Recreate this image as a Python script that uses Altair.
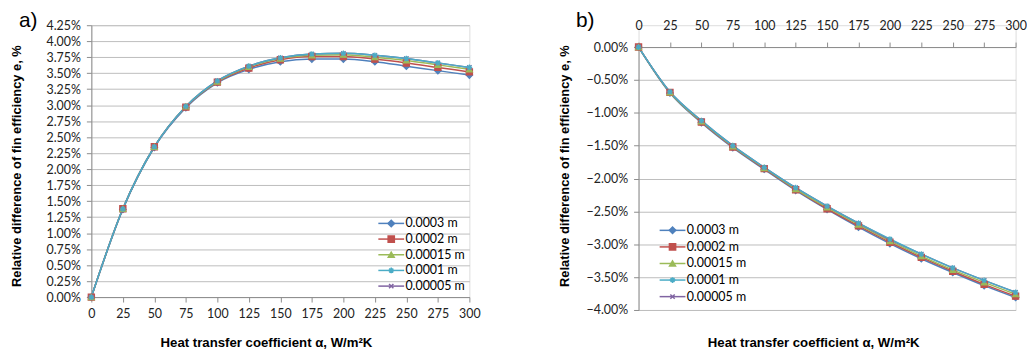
import altair as alt
import pandas as pd

alpha = [0, 25, 50, 75, 100, 125, 150, 175, 200, 225, 250, 275, 300]
series_names = ["0.0003 m", "0.0002 m", "0.00015 m", "0.0001 m", "0.00005 m"]

# panel a) relative difference, %
a_0003 = [0.0, 1.37, 2.34, 2.96, 3.35, 3.56, 3.68, 3.72, 3.72, 3.68, 3.61, 3.54, 3.47]
a_0002 = [0.0, 1.38, 2.35, 2.97, 3.36, 3.58, 3.71, 3.76, 3.76, 3.72, 3.66, 3.59, 3.52]
a_00015 = [0.0, 1.38, 2.35, 2.98, 3.37, 3.60, 3.73, 3.78, 3.79, 3.75, 3.70, 3.63, 3.56]
a_0001 = [0.0, 1.38, 2.35, 2.98, 3.38, 3.61, 3.74, 3.80, 3.81, 3.78, 3.73, 3.66, 3.59]
a_00005 = [0.0, 1.38, 2.35, 2.98, 3.38, 3.61, 3.74, 3.80, 3.81, 3.78, 3.73, 3.66, 3.59]

# panel b) relative difference, %
b_0003 = [0.0, -0.70, -1.15, -1.53, -1.86, -2.18, -2.47, -2.74, -2.99, -3.22, -3.43, -3.63, -3.81]
b_0002 = [0.0, -0.69, -1.14, -1.52, -1.85, -2.17, -2.46, -2.72, -2.97, -3.20, -3.41, -3.61, -3.79]
b_00015 = [0.0, -0.69, -1.13, -1.51, -1.84, -2.16, -2.44, -2.70, -2.95, -3.18, -3.39, -3.58, -3.76]
b_0001 = [0.0, -0.68, -1.12, -1.50, -1.83, -2.14, -2.42, -2.68, -2.92, -3.15, -3.36, -3.55, -3.73]
b_00005 = [0.0, -0.68, -1.12, -1.50, -1.83, -2.14, -2.42, -2.68, -2.93, -3.15, -3.36, -3.55, -3.73]

colors = ["#4F81BD", "#C0504D", "#9BBB59", "#4BACC6", "#8064A2"]
shapes = [
    "diamond",
    "square",
    "triangle-up",
    "M-1,0L1,0M0,-1L0,1M-0.7,-0.7L0.7,0.7M-0.7,0.7L0.7,-0.7",
    "M-0.8,-0.8L0.8,0.8M-0.8,0.8L0.8,-0.8",
]
msizes = [42, 30, 42, 56, 56]
lwidths = [1.5, 1.5, 1.5, 3.2, 1.5]
draw_order = [0, 1, 2, 4, 3]  # thick cyan line drawn last

marker_names = ["\u200b" + n for n in series_names]


def frame(values_list):
    rows = []
    for i in draw_order:
        for a, v in zip(alpha, values_list[i]):
            rows.append({"alpha": a, "value": v / 100.0,
                         "series": series_names[i], "series_m": marker_names[i]})
    return pd.DataFrame(rows)


df_a = frame([a_0003, a_0002, a_00015, a_0001, a_00005])
df_b = frame([b_0003, b_0002, b_00015, b_0001, b_00005])

LABEL_FONT = "Lato"
TITLE_FONT = "Liberation Sans"
YTITLE = "Relative difference of fin efficiency e, %"
XTITLE = "Heat transfer coefficient \u03b1, W/m\u00b2K"


def panel(df, ydomain, yticks, xorient, width, height, legx, legy, rowpad,
          xtitle_y, xlabpad, label, label_dx, label_dy):
    xaxis = alt.Axis(
        values=alpha, orient=xorient, grid=False, title=XTITLE,
        titleFont=TITLE_FONT, titleFontSize=13.3, titleFontWeight="bold", titleColor="black",
        titleX=176, titleY=xtitle_y, titleBaseline="alphabetic", titleAlign="center",
        labelFont=LABEL_FONT, labelFontSize=12.5, labelColor="#222222", labelFlush=False,
        labelPadding=xlabpad, tickSize=5, tickColor="#8c8c8c", domainColor="#8c8c8c",
    )
    yaxis = alt.Axis(
        values=yticks, format=".2%", grid=True, gridColor="#bdbdbd", gridWidth=1,
        title=YTITLE, titleFont=TITLE_FONT, titleFontSize=13, titleFontWeight="bold",
        titleColor="black", titleX=-75, titleY=162.5 - (21 if xorient == "bottom" else 43),
        titleBaseline="middle", titleAlign="center", titleAngle=270,
        labelFont=LABEL_FONT, labelFontSize=12.5, labelColor="#222222", labelPadding=6,
        labelFlush=False, tickSize=5, tickColor="#8c8c8c", domainColor="#8c8c8c",
    )
    x = alt.X("alpha:Q", scale=alt.Scale(domain=[0, 300], nice=False), axis=xaxis)
    y = alt.Y("value:Q", scale=alt.Scale(domain=ydomain, nice=False), axis=yaxis)
    base = alt.Chart(df)
    lines = base.mark_line(interpolate="monotone").encode(
        x=x, y=y,
        color=alt.Color("series:N", scale=alt.Scale(domain=series_names, range=colors),
                        legend=alt.Legend(
                            title=None, orient="none", legendX=legx, legendY=legy,
                            symbolType="M-3.25,0L3.25,0", symbolSize=64,
                            labelFont=LABEL_FONT, labelFontSize=12.5, labelColor="black",
                            rowPadding=rowpad, labelOffset=8, padding=0)),
        strokeWidth=alt.StrokeWidth("series:N", scale=alt.Scale(domain=series_names, range=lwidths),
                                    legend=None),
    )
    leg_b = alt.Legend(title=None, orient="none", legendX=legx, legendY=legy,
                       labelFont=LABEL_FONT, labelFontSize=12.5, labelExpr="''",
                       rowPadding=rowpad, padding=0)
    points = base.mark_point(filled=True, strokeWidth=1.2, opacity=1).encode(
        x=x, y=y,
        fill=alt.Fill("series_m:N", scale=alt.Scale(domain=marker_names, range=colors), legend=leg_b),
        stroke=alt.Stroke("series_m:N", scale=alt.Scale(domain=marker_names, range=colors), legend=leg_b),
        shape=alt.Shape("series_m:N", scale=alt.Scale(domain=marker_names, range=shapes), legend=leg_b),
        size=alt.Size("series_m:N", scale=alt.Scale(domain=marker_names, range=msizes), legend=leg_b),
    )
    return alt.layer(lines, points).properties(
        width=width, height=height,
        title=alt.TitleParams(text=label, anchor="start", frame="group", dx=label_dx, dy=label_dy,
                              font=TITLE_FONT, fontSize=21, fontWeight="normal",
                              color="black", offset=-14),
    )


yt_a = [i * 0.0025 for i in range(18)]
yt_b = [-i * 0.005 for i in range(9)]

left = panel(df_a, [0, 0.0425], yt_a, "bottom", 381, 274, 296, 193.5, 2.8,
             50, 6, "a)", -73, -2.5)
right = panel(df_b, [-0.04, 0], yt_b, "top", 380, 265, 28, 200.5, 3.7,
              302, 10, "b)", -63, -2)

spacer = alt.Chart(pd.DataFrame({"v": [0]})).mark_point(opacity=0).encode(
    x=alt.value(0), y=alt.value(0)
).properties(width=380, height=22)

right_col = alt.vconcat(spacer, right, spacing=0, bounds="flush")

chart = alt.hconcat(left, right_col, spacing=170.5, bounds="flush").resolve_scale(
    color="independent", fill="independent", stroke="independent",
    shape="independent", size="independent", strokeWidth="independent",
).resolve_legend(
    color="independent", fill="independent", stroke="independent",
    shape="independent", size="independent",
).properties(
    padding={"left": 2, "top": 0, "right": 0, "bottom": 0}
).configure_view(stroke=None).configure(background="white")

chart.save("out.html", embed_options={"renderer": "svg", "actions": False})
